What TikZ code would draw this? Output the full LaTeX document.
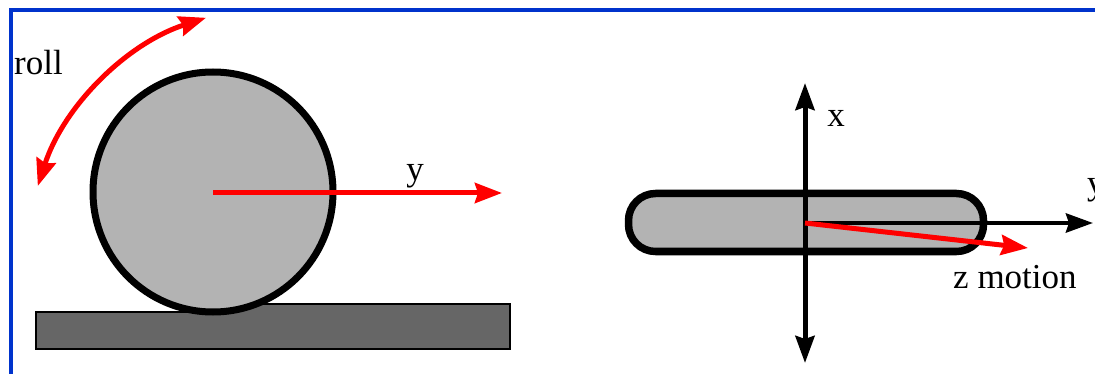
\documentclass[tikz,border=0pt]{standalone}
\usepackage{fontspec}
\setmainfont{Liberation Serif}
\usetikzlibrary{arrows.meta}
\definecolor{frameblue}{RGB}{0,51,204}
\definecolor{lightgray}{RGB}{179,179,179}
\definecolor{darkgray}{RGB}{102,102,102}
\tikzset{
  lbl/.style={inner sep=0pt,font=\fontsize{35}{40}\selectfont},
  redarrow/.style={red,line width=5pt,-{Stealth[length=27pt,width=20pt,inset=3pt]}},
  blackaxis/.style={black,line width=4.5pt,-{Stealth[length=27pt,width=19pt,inset=3pt]}},
}
\begin{document}
\begin{tikzpicture}[x=1pt,y=1pt]
\useasboundingbox (0,0) rectangle (1095,-374);
\clip (0,0) rectangle (1095,-374);
% frame
\draw[frameblue,line width=4.5pt] (11,-10) rectangle (1200,-500);
% ground
\draw[fill=darkgray,line width=1.3pt] (36,-312) -- (213,-312) -- (213,-304) -- (510,-304) -- (510,-349) -- (36,-349) -- cycle;
% wheel
\draw[fill=lightgray,line width=7pt] (213,-192) circle[radius=120];
\coordinate (wc) at (213,-193);
\coordinate (wy) at (502,-193);
\draw[redarrow] (wc) -- (wy);
\node[lbl,anchor=base] (ylabL) at (415,-181) {y};
% roll arc
\draw[red,line width=5pt,{Stealth[length=27pt,width=20pt,inset=3pt]}-{Stealth[length=27pt,width=20pt,inset=3pt]}]
  (37.8,-186) arc[start angle=162,end angle=108,radius=262];
\node[lbl,anchor=base west] (roll) at (14,-75) {roll};
% right figure
\draw[fill=lightgray,line width=7.5pt,rounded corners=27pt] (628.5,-193.5) rectangle (983.5,-251.5);
\coordinate (o) at (805,-223);
\coordinate (xt) at (805,-83);
\coordinate (xb) at (805,-363);
\coordinate (yt) at (1093,-223);
\coordinate (zt) at (1028,-248);
\draw[black,line width=5pt,{Stealth[length=27pt,width=19pt,inset=3pt]}-{Stealth[length=27pt,width=19pt,inset=3pt]}] (xt) -- (xb);
\draw[blackaxis] (o) -- (yt);
\draw[redarrow] (o) -- (zt);
\node[lbl,anchor=base] (xlab) at (836,-127) {x};
\node[lbl,anchor=base west] (ylabR) at (1087,-195) {y};
\node[lbl,anchor=base west] (zlab) at (953,-288) {z motion};
\end{tikzpicture}
\end{document}
